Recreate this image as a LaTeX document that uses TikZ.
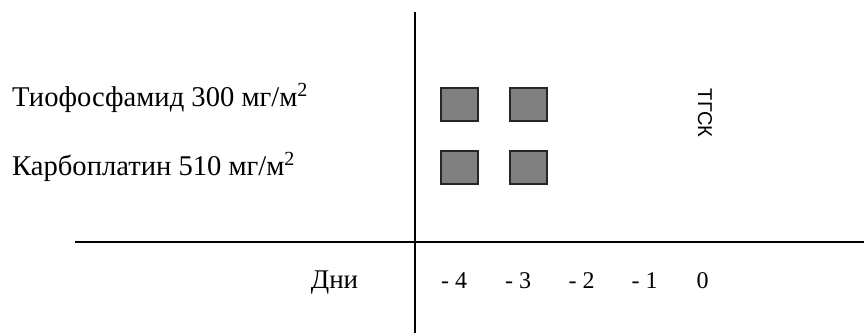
\documentclass[tikz,border=0pt]{standalone}
\usepackage{fontspec}
\setmainfont{Liberation Serif}
\newfontfamily\lsans{Liberation Sans}
\begin{document}
\begin{tikzpicture}[x=1pt,y=-1pt,
  dose/.style={draw=black!85,fill=black!50,line width=1.6pt},
  axisline/.style={draw=black,line width=1.2pt},
  lbl/.style={inner sep=0pt,font=\fontsize{28.6}{32}\selectfont},
  daylbl/.style={inner sep=0pt,anchor=base,font=\fontsize{24}{28}\selectfont}]
\useasboundingbox (0,0) rectangle (864,333);
% axes
\coordinate (vtop) at (415,12);
\coordinate (vbot) at (415,333);
\coordinate (hl) at (75,242);
\coordinate (hr) at (864,242);
\draw[axisline] (vtop) -- (vbot);
\draw[axisline] (hl) -- (hr);
% drug labels
\node[lbl,anchor=base west] (thio) at (12,106) {Тиофосфамид 300 мг/м\textsuperscript{2}};
\node[lbl,anchor=base west] (carbo) at (12,175) {Карбоплатин 510 мг/м\textsuperscript{2}};
% dose boxes
\path[dose] (441,88) rectangle (478,121);
\path[dose] (510,88) rectangle (547,121);
\path[dose] (441,151) rectangle (478,184);
\path[dose] (510,151) rectangle (547,184);
% TGSK
\node[inner sep=0pt,rotate=-90,font=\lsans\fontsize{20}{24}\selectfont] (tgsk) at (705,113) {ТГСК};
% days
\node[daylbl,font=\fontsize{27}{30}\selectfont] (dni) at (334.5,288) {Дни};
\node[daylbl] (d4) at (454,288) {- 4};
\node[daylbl] (d3) at (518,288) {- 3};
\node[daylbl] (d2) at (581.5,288) {- 2};
\node[daylbl] (d1) at (644.5,288) {- 1};
\node[daylbl] (d0) at (702.5,288) {0};
\end{tikzpicture}
\end{document}
